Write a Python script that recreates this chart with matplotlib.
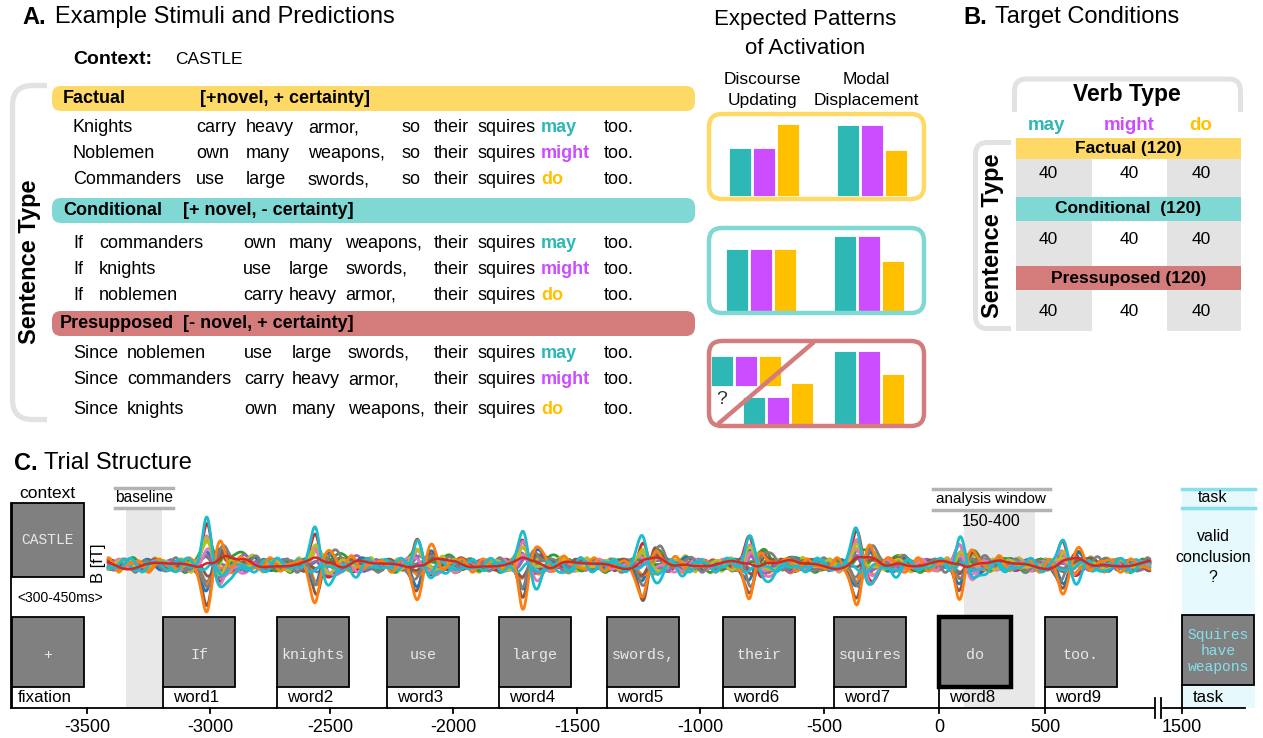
import numpy as np
import matplotlib.pyplot as plt
from matplotlib.patches import FancyBboxPatch, Rectangle

plt.rcParams['font.family'] = ['Liberation Sans', 'DejaVu Sans']
MONO = 'Liberation Mono'

TEAL, PURPLE, GOLD = '#2eb8b5', '#cc4dff', '#ffc000'
FACT, COND, PRES = '#ffd966', '#80d8d5', '#d47c7c'
BRACKET = '#e2e2e2'

# ---- panel A: stimuli ----
conditions = ['Factual', 'Conditional', 'Presupposed']
features = ['[+novel, + certainty]', '[+ novel, - certainty]', '[- novel, + certainty]']
modals = ['may', 'might', 'do']
modal_colors = [TEAL, PURPLE, GOLD]
sentences = [
    [['Knights', 'carry', 'heavy', 'armor,', 'so'],
     ['Noblemen', 'own', 'many', 'weapons,', 'so'],
     ['Commanders', 'use', 'large', 'swords,', 'so']],
    [['If', 'commanders', 'own', 'many', 'weapons,'],
     ['If', 'knights', 'use', 'large', 'swords,'],
     ['If', 'noblemen', 'carry', 'heavy', 'armor,']],
    [['Since', 'noblemen', 'use', 'large', 'swords,'],
     ['Since', 'commanders', 'carry', 'heavy', 'armor,'],
     ['Since', 'knights', 'own', 'many', 'weapons,']],
]

# expected activation (arbitrary units): discourse updating / modal displacement
du_heights = [[48, 48, 72], [62, 62, 62], [27, 27, 41]]
md_heights = [[71, 71, 46], [75, 75, 50], [73, 73, 50]]
presup_alt = [30, 30, 30]

# ---- panel B: target conditions ----
b_headers = ['Factual (120)', 'Conditional  (120)', 'Pressuposed (120)']
cell_counts = [[40, 40, 40], [40, 40, 40], [40, 40, 40]]

# ---- panel C: trial structure ----
stim_words = ['+', 'If', 'knights', 'use', 'large', 'swords,', 'their', 'squires', 'do', 'too.']
stim_labels = ['fixation', 'word1', 'word2', 'word3', 'word4', 'word5',
               'word6', 'word7', 'word8', 'word9']
tick_vals = [-3500, -3000, -2500, -2000, -1500, -1000, -500, 0, 500, 1500]

# evoked field peaks after each word (px along the trial line) and their
# largest upward / downward deflections
resp_x = [207, 316, 417, 523, 643, 750, 857, 960, 1063]
resp_up = [52, 37, 28, 32, 28, 33, 38, 28, 23]
resp_down = [48, 37, 33, 39, 37, 33, 42, 28, 28]

# per-sensor loading on the early peak, the later wave, and background ripple
main_w = [0.3, -1.0, 0.5, 0.85, 0.45, -0.9, 0.6, -0.25, 0.4, 1.0,
          -0.5, -0.35, 0.2, 0.1, 0.15, -0.2, 0.35, -0.6, 0.5, -0.1]
late_w = [-0.2, 0.3, 0.9, -0.3, 0.4, 0.2, -0.4, 0.3, 0.5, -0.6,
          0.3, -0.5, 0.2, 0.35, -0.3, 0.4, -0.2, 0.5, 0.1, -0.3]
rip_a = [4, 5, 5, 3.5, 4, 4, 4, 3.5, 5, 5, 4, 3.5, 4, 3, 3.5, 4, 4, 5, 3.5, 4]
rip_T = [31, 27, 35, 29, 38, 26, 33, 40, 24, 30, 36, 28, 34, 70, 25, 39, 32, 27, 37, 29]
rip_phi = [0.3, 1.7, 2.9, 4.1, 5.2, 0.9, 2.2, 3.6, 4.8, 6.0,
           1.2, 2.6, 3.9, 5.5, 0.6, 1.9, 3.3, 4.5, 5.8, 0.1]

fig = plt.figure(figsize=(12.63, 7.38), dpi=100)
ax = fig.add_axes([0, 0, 1, 1])
ax.set_xlim(0, 1263)
ax.set_ylim(738, 0)
ax.axis('off')


def rbox(x0, y0, x1, y1, r, **kw):
    p = FancyBboxPatch((x0, y0), x1 - x0, y1 - y0,
                       boxstyle=f'round,pad=0,rounding_size={r}', **kw)
    ax.add_patch(p)
    return p


def clip_to(p, x0, y0, x1, y1):
    clip = Rectangle((x0, y0), x1 - x0, y1 - y0, transform=ax.transData)
    p.set_clip_path(clip)


# ================= A =================
ax.text(22, 17, 'A.', fontsize=17, fontweight='bold', va='center')
ax.text(55, 17, 'Example Stimuli and Predictions', fontsize=17, va='center')
ax.text(73, 60, 'Context:', fontsize=14, fontweight='bold', va='center')
ax.text(175, 60, 'CASTLE', fontsize=12.5, va='center')

br = rbox(12.5, 85.5, 90, 419.5, 20, fill=False, ec=BRACKET, lw=3.8)
clip_to(br, 0, 70, 47, 430)
ax.text(30, 262, 'Sentence Type', fontsize=17, fontweight='bold', rotation=90,
        ha='center', va='center')

bar_top = [86, 198, 311]
bar_colors = [FACT, COND, PRES]
row_y = [[128, 154, 180], [243, 269, 295], [353, 380, 409]]
word_cols = [[73, 196, 246, 308, 401], [73, 99, 243, 289, 345], [73, 127, 244, 292, 348]]
name_x = [63, 63, 60]
feat_x = [200, 183, 183]
for c in range(3):
    rbox(52, bar_top[c], 695, bar_top[c] + 25, 9, fc=bar_colors[c], ec='none')
    ax.text(name_x[c], bar_top[c] + 12.5, conditions[c], fontsize=13,
            fontweight='bold', va='center')
    ax.text(feat_x[c], bar_top[c] + 12.5, features[c], fontsize=13,
            fontweight='bold', va='center')
    for r in range(3):
        y = row_y[c][r]
        for w, x in zip(sentences[c][r], word_cols[c]):
            ax.text(x, y, w, fontsize=13, va='center')
        ax.text(434, y, 'their', fontsize=13, va='center')
        ax.text(478, y, 'squires', fontsize=13, va='center')
        ax.text(541, y, modals[r], fontsize=13, va='center', color=modal_colors[r],
                fontweight='bold')
        ax.text(604, y, 'too.', fontsize=13, va='center')

# expected patterns
ax.text(805, 20, 'Expected Patterns', fontsize=16, ha='center', va='center')
ax.text(805, 48, 'of Activation', fontsize=16, ha='center', va='center')
ax.text(762, 79, 'Discourse', fontsize=12.5, ha='center', va='center')
ax.text(762, 100, 'Updating', fontsize=12.5, ha='center', va='center')
ax.text(866, 80, 'Modal', fontsize=12.5, ha='center', va='center')
ax.text(866, 101, 'Displacement', fontsize=12.5, ha='center', va='center')

box_top = [114, 228, 341]
box_bot = [199, 313, 426]
bar_base = [196, 311, 424]
du_x0 = [729, 726, 743]
md_x0 = [837, 834, 834]
bw, pitch = 21.5, 24
for c in range(3):
    xs = np.array(du_x0[c]) + np.arange(3) * pitch + bw / 2
    ax.bar(xs, -np.array(du_heights[c]), bottom=bar_base[c], width=bw,
           color=modal_colors, edgecolor='white', lw=0.6, zorder=2)
    xs = np.array(md_x0[c]) + np.arange(3) * pitch + bw / 2
    ax.bar(xs, -np.array(md_heights[c]), bottom=bar_base[c], width=bw,
           color=modal_colors, edgecolor='white', lw=0.6, zorder=2)
# alternative pattern for presupposed (hanging from the top)
xs = 711 + np.arange(3) * pitch + bw / 2
ax.bar(xs, presup_alt, bottom=356, width=bw, color=modal_colors,
       edgecolor='white', lw=0.6, zorder=2)
ax.plot([718, 814], [424, 342], color=PRES, lw=3.2, zorder=3, solid_capstyle='butt')
ax.text(722, 400, '?', fontsize=14, ha='center', va='center', color='#333333', zorder=3)
for c in range(3):
    rbox(709, box_top[c], 924, box_bot[c], 13, fill=False, ec=bar_colors[c],
         lw=3.2, zorder=4)

# ================= B =================
ax.text(963, 17, 'B.', fontsize=17, fontweight='bold', va='center')
ax.text(995, 17, 'Target Conditions', fontsize=17, va='center')
vt = rbox(1014.5, 79, 1240.5, 150, 12, fill=False, ec=BRACKET, lw=3.6)
clip_to(vt, 1000, 60, 1260, 112)
ax.text(1127, 95, 'Verb Type', fontsize=16.5, fontweight='bold', ha='center', va='center')
col_x = [1016, 1091.5, 1166.5, 1241]
col_c = [1048, 1129, 1201]
for j in range(3):
    ax.text(col_c[j] if j else 1046, 126, modals[j], fontsize=13.5, fontweight='bold',
            color=modal_colors[j], ha='center', va='center')
for j in (0, 2):
    ax.add_patch(Rectangle((col_x[j], 138), col_x[j + 1] - col_x[j], 331 - 138,
                           fc='#e3e3e3', ec='none'))
head_y = [(138, 159), (197, 221), (266, 290)]
cell_y = [173, 240, 311]
for c in range(3):
    y0, y1 = head_y[c]
    ax.add_patch(Rectangle((1016, y0), 1241 - 1016, y1 - y0, fc=bar_colors[c], ec='none'))
    ax.text(1128.5, (y0 + y1) / 2, b_headers[c], fontsize=12.5, fontweight='bold',
            ha='center', va='center')
    for j in range(3):
        ax.text(col_c[j], cell_y[c], str(cell_counts[c][j]), fontsize=12.5,
                ha='center', va='center')
sb = rbox(975.5, 142.5, 1040, 328.5, 12, fill=False, ec=BRACKET, lw=3.6)
clip_to(sb, 960, 130, 1011, 340)
ax.text(993, 236, 'Sentence Type', fontsize=17, fontweight='bold', rotation=90,
        ha='center', va='center')

# ================= C =================
ax.text(14, 463, 'C.', fontsize=17, fontweight='bold', va='center')
ax.text(44, 463, 'Trial Structure', fontsize=17, va='center')

axis_y = 708
tick_px = [87, 210, 330, 453, 577, 700, 824, 939, 1045, 1182]

# shaded windows
ax.add_patch(Rectangle((126, 508), 36, axis_y - 508, fc='#e8e8e8', ec='none', zorder=0))
ax.add_patch(Rectangle((964, 511), 71, axis_y - 511, fc='#e8e8e8', ec='none', zorder=0))
ax.add_patch(Rectangle((1182, 488), 73, axis_y - 488, fc='#e6f9fc', ec='none', zorder=0))

for yy in (488, 508):
    ax.plot([115, 173], [yy, yy], color='#b3b3b3', lw=2.5)
ax.text(144, 498, 'baseline', fontsize=11.2, ha='center', va='center')
for yy in (489, 510):
    ax.plot([933, 1050], [yy, yy], color='#b3b3b3', lw=2.5)
ax.text(991, 499, 'analysis window', fontsize=11, ha='center', va='center')
ax.text(991, 522, '150-400', fontsize=11.5, ha='center', va='center')
for yy in (489, 508):
    ax.plot([1182, 1255], [yy, yy], color='#86dfec', lw=2.5)
ax.text(1213, 498, 'task', fontsize=11.5, ha='center', va='center')
ax.text(1213, 557, 'valid\nconclusion\n?', fontsize=11.5, ha='center', va='center',
        linespacing=1.45)

# butterfly plot of evoked fields
xg = np.linspace(108, 1150, 2500)
base_y = 565


def bump(c, s):
    return np.exp(-0.5 * ((xg - c) / s) ** 2)


traces = []
for i in range(len(main_w)):
    y = np.zeros_like(xg)
    for p, up, dn in zip(resp_x, resp_up, resp_down):
        a = up if main_w[i] > 0 else dn
        y += main_w[i] * a * bump(p, 4.5)
        y -= 0.3 * main_w[i] * a * bump(p + 13, 5)
        y += late_w[i] * 0.45 * a * bump(p + 15, 6.5)
        y += 0.25 * late_w[i] * a * bump(p + 40, 6)
    y += rip_a[i] * (np.sin(2 * np.pi * xg / rip_T[i] + rip_phi[i])
                     + 0.5 * np.sin(2 * np.pi * xg / (0.6 * rip_T[i]) + 2 * rip_phi[i]))
    traces.append(y)

tab = plt.get_cmap('tab10').colors
order = [i for i in range(len(traces)) if i not in (1, 9, 13)] + [1, 9, 13]
for i in order:
    ax.plot(xg, base_y - traces[i], color=tab[i % 10], lw=2.0 if i != 13 else 1.8,
            zorder=1, solid_capstyle='round')
ax.text(98, 563, 'B [fT]', fontsize=12, rotation=90, ha='center', va='center')

# context screen
ax.add_patch(Rectangle((12, 503), 72, 74, fc='#808080', ec='black', lw=1.3, zorder=2))
ax.text(48, 540, 'CASTLE', family=MONO, fontsize=10.5, color='#e8e8e8',
        ha='center', va='center', zorder=3)
ax.text(47, 493, 'context', fontsize=12.5, ha='center', va='center')
ax.text(60, 598, '<300-450ms>', fontsize=10, ha='center', va='center')
ax.plot([11, 11], [503, axis_y], color='black', lw=1.3)

# word screens
box_left = [12, 163, 277, 387, 499, 607, 723, 834, 939, 1045]
bw_c, top_c, bot_c = 72, 617, 687
for k, (w, lab, x0) in enumerate(zip(stim_words, stim_labels, box_left)):
    thick = w == 'do'
    ax.add_patch(Rectangle((x0, top_c), bw_c, bot_c - top_c, fc='#808080',
                           ec='black', lw=3.2 if thick else 1.3, zorder=2))
    ax.text(x0 + bw_c / 2, 655, w, family=MONO, fontsize=10.8, color='#e8e8e8',
            ha='center', va='center', zorder=3)
    ax.plot([x0, x0], [bot_c, axis_y], color='black', lw=1.3)
    ax.text(x0 + bw_c / 2 - 3, 697, lab, fontsize=12.2, ha='center', va='center')

# task screen
ax.add_patch(Rectangle((1182, 615), 72, 70, fc='#808080', ec='black', lw=1.3, zorder=2))
ax.text(1218, 651, 'Squires\nhave\nweapons', family=MONO, fontsize=10.5,
        color='#86dfec', ha='center', va='center', linespacing=1.2, zorder=3)
ax.plot([1182, 1182], [685, axis_y], color='black', lw=1.3)
ax.text(1193, 697, 'task', fontsize=12.2, va='center')

# time axis with a break before the task
ax.plot([11, 1154], [axis_y, axis_y], color='black', lw=1.3)
ax.plot([1163, 1245], [axis_y, axis_y], color='black', lw=1.3)
for bx in (1155, 1161):
    ax.plot([bx, bx], [698, 718], color='black', lw=1.3)
for v, px in zip(tick_vals, tick_px):
    ax.plot([px, px], [axis_y, axis_y + 5], color='black', lw=1.3)
    ax.text(px, 727, f'{v}', fontsize=13, ha='center', va='center')

fig.savefig('out.png', dpi=100)
